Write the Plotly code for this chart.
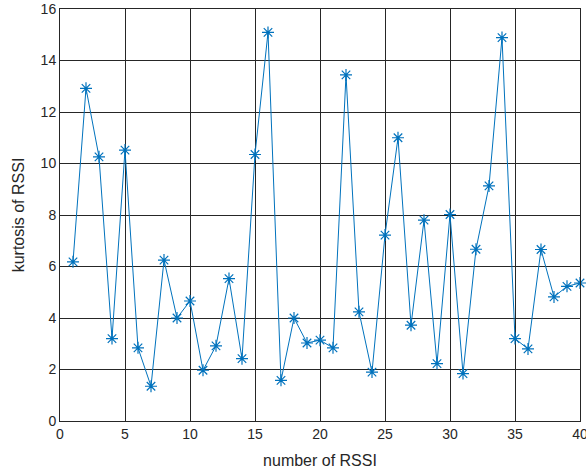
import plotly.graph_objects as go

x_vals = list(range(1, 41))
kurtosis = [6.18, 12.92, 10.26, 3.2, 10.52, 2.84, 1.35, 6.25, 4.0, 4.66,
            1.97, 2.92, 5.53, 2.42, 10.35, 15.09, 1.58, 4.0, 3.03, 3.14,
            2.84, 13.44, 4.24, 1.9, 7.22, 11.0, 3.72, 7.8, 2.23, 8.02,
            1.84, 6.67, 9.13, 14.89, 3.2, 2.8, 6.66, 4.82, 5.23, 5.36]
x_ticks = [0, 5, 10, 15, 20, 25, 30, 35, 40]
y_ticks = [0, 2, 4, 6, 8, 10, 12, 14, 16]

fig = go.Figure()
fig.add_trace(go.Scatter(
    x=x_vals, y=kurtosis, mode="lines+markers",
    line=dict(color="#0072BD", width=1),
    marker=dict(symbol="asterisk-open", size=10, color="#0072BD",
                line=dict(color="#0072BD", width=1.2)),
    cliponaxis=False,
))

axis_common = dict(
    showgrid=True, gridcolor="#262626", gridwidth=1,
    showline=True, linecolor="#262626", linewidth=1, mirror="ticks",
    ticks="inside", ticklen=5, tickcolor="#262626",
    zeroline=False, automargin=False, ticklabeloverflow="allow",
    tickfont=dict(family="Liberation Sans, Arial", size=14, color="#262626"),
)
fig.update_xaxes(range=[0, 40], tickvals=x_ticks, **axis_common,
                 title=dict(text="number of RSSI", standoff=14,
                            font=dict(family="Liberation Sans, Arial", size=16, color="#262626")))
fig.update_yaxes(range=[0, 16], tickvals=y_ticks, **axis_common,
                 title=dict(text="kurtosis of RSSI", standoff=12,
                            font=dict(family="Liberation Sans, Arial", size=16, color="#262626")))

fig.update_layout(
    width=586, height=475,
    margin=dict(l=60, r=6, t=9, b=54),
    paper_bgcolor="white", plot_bgcolor="white",
    showlegend=False,
)
fig.write_html("out.html")
